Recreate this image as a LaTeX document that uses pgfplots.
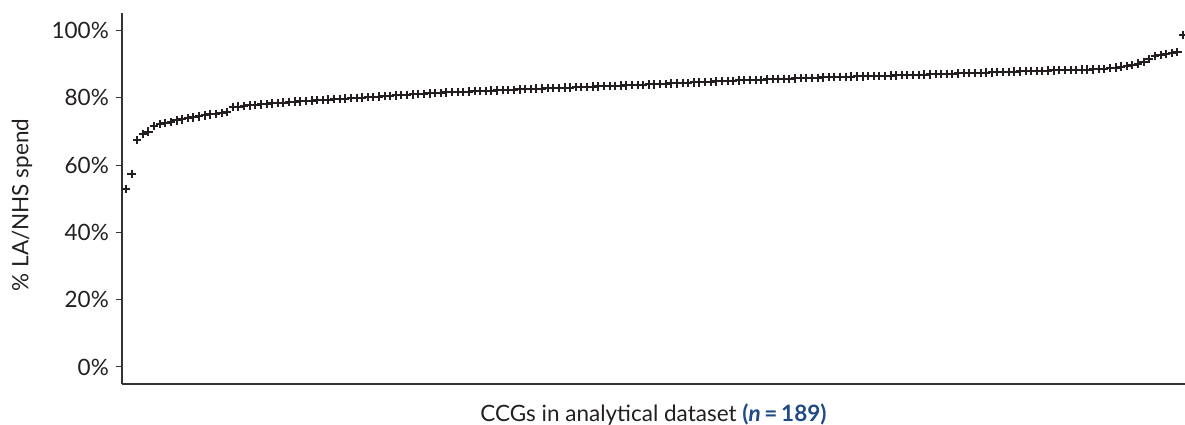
\documentclass[border=0pt]{standalone}
\usepackage{fontspec}
\setmainfont{Lato}
\usepackage{pgfplots}
\pgfplotsset{compat=1.18}
\definecolor{ink}{RGB}{35,31,32}
\definecolor{axisgray}{RGB}{51,51,51}
\definecolor{nblue}{RGB}{31,74,135}
\begin{document}
\begin{tikzpicture}
\begin{axis}[
  name=ax,
  scale only axis,
  width=1063pt, height=371pt,
  xmin=0.29, xmax=189.36,
  ymin=-5.06, ymax=105.26,
  axis lines=left,
  axis line style={-, line width=1.3pt, color=axisgray},
  xtick=\empty,
  ytick={0,20,40,60,80,100},
  ytick pos=left,
  tick align=outside,
  major tick length=6pt,
  tick style={line width=1pt, color=axisgray},
  /pgf/number format/assume math mode=true,
  yticklabel={\pgfmathprintnumber{\tick}\%},
  yticklabel style={anchor=east, inner sep=0pt, xshift=-7pt},
  tick label style={font=\fontsize{22.5}{26}\selectfont, text=ink},
  label style={font=\fontsize{22.5}{26}\selectfont, text=ink},
  xlabel={CCGs in analytical dataset {\color{nblue}\bfseries(\textit{n}\,=\,189)}},
  xlabel style={at={(axis description cs:0.5,-0.1024)}, anchor=base},
  ylabel={\% LA/NHS spend},
  ylabel style={at={(axis description cs:-0.0881,0.4825)}, anchor=base, rotate=0},
]
\addplot[only marks, mark=+, mark size=4.2pt, color=ink, mark options={line width=2pt}] table {
x y
1 52.9
2 57.4
3 67.5
4 69.2
5 70.0
6 71.6
7 72.2
8 72.5
9 72.8
10 73.3
11 73.6
12 74.0
13 74.2
14 74.5
15 74.8
16 75.1
17 75.3
18 75.5
19 75.8
20 77.3
21 77.45
22 77.6
23 77.8
24 77.9
25 78.1
26 78.2
27 78.4
28 78.5
29 78.6
30 78.8
31 78.9
32 79.0
33 79.1
34 79.2
35 79.3
36 79.4
37 79.5
38 79.6
39 79.7
40 79.8
41 79.9
42 80.0
43 80.1
44 80.2
45 80.3
46 80.4
47 80.5
48 80.65
49 80.75
50 80.85
51 80.95
52 81.05
53 81.15
54 81.25
55 81.35
56 81.45
57 81.55
58 81.65
59 81.7
60 81.8
61 81.85
62 81.9
63 82.0
64 82.05
65 82.1
66 82.2
67 82.25
68 82.35
69 82.4
70 82.45
71 82.55
72 82.6
73 82.65
74 82.75
75 82.8
76 82.9
77 82.95
78 83.0
79 83.05
80 83.1
81 83.2
82 83.25
83 83.3
84 83.35
85 83.45
86 83.5
87 83.55
88 83.6
89 83.7
90 83.75
91 83.8
92 83.85
93 83.9
94 84.0
95 84.05
96 84.15
97 84.2
98 84.3
99 84.35
100 84.45
101 84.5
102 84.6
103 84.65
104 84.75
105 84.8
106 84.9
107 84.95
108 85.05
109 85.1
110 85.2
111 85.25
112 85.3
113 85.35
114 85.4
115 85.5
116 85.55
117 85.6
118 85.65
119 85.7
120 85.8
121 85.85
122 85.9
123 85.95
124 86.0
125 86.1
126 86.15
127 86.2
128 86.25
129 86.3
130 86.35
131 86.4
132 86.4
133 86.45
134 86.5
135 86.55
136 86.6
137 86.65
138 86.7
139 86.75
140 86.8
141 86.85
142 86.9
143 86.95
144 87.0
145 87.05
146 87.1
147 87.15
148 87.2
149 87.3
150 87.35
151 87.4
152 87.45
153 87.5
154 87.55
155 87.6
156 87.7
157 87.75
158 87.8
159 87.85
160 87.9
161 87.95
162 88.0
163 88.05
164 88.1
165 88.15
166 88.2
167 88.25
168 88.3
169 88.3
170 88.35
171 88.4
172 88.45
173 88.5
174 88.55
175 88.65
176 88.85
177 89.05
178 89.3
179 89.5
180 89.75
181 90.2
182 90.7
183 91.5
184 92.4
185 92.8
186 93.1
187 93.35
188 93.6
189 98.7
};
\end{axis}
\pgfresetboundingbox
\path[use as bounding box] ([xshift=-122pt,yshift=-41pt]ax.south west) rectangle ([yshift=13pt]ax.north east);
\end{tikzpicture}
\end{document}
